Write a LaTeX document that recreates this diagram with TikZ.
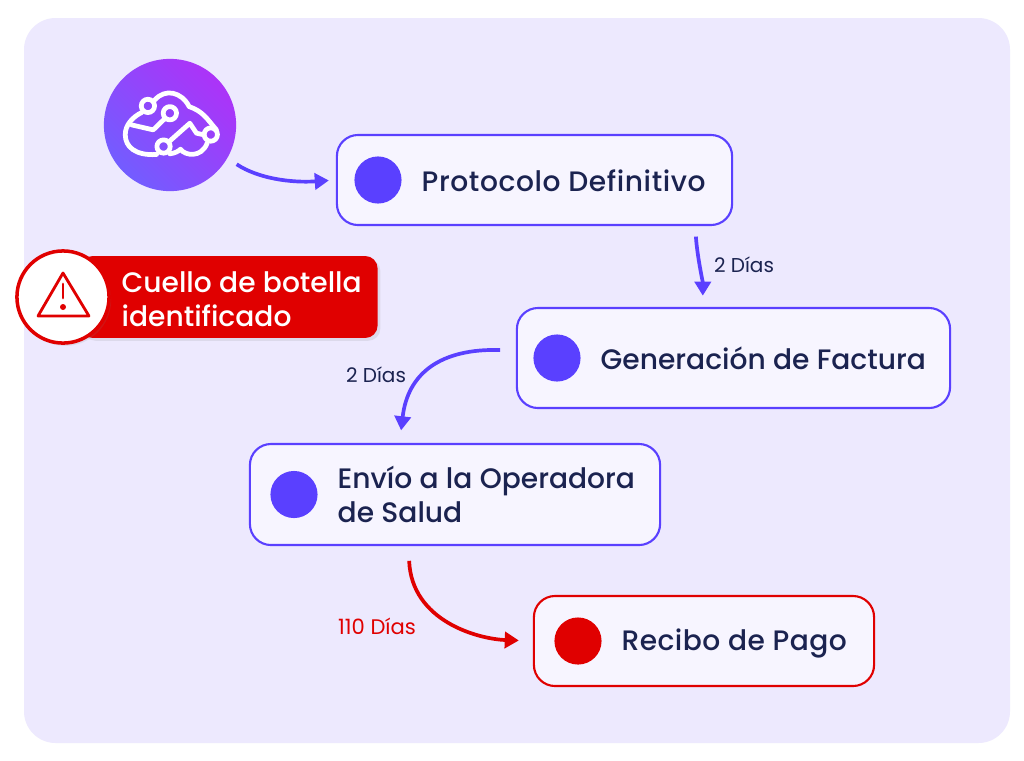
\documentclass[tikz,border=0pt]{standalone}
\usepackage{fontspec}
\setmainfont{Poppins}
\newfontfamily\medfont{Poppins Medium}
\usepackage{tikz}
\usetikzlibrary{calc}
\usetikzlibrary{shadows}
\usetikzlibrary{arrows.meta}
\definecolor{panelbg}{HTML}{EDE9FE}
\definecolor{cardbg}{HTML}{F7F5FF}
\definecolor{flowblue}{HTML}{5A40FF}
\definecolor{logoviolet}{HTML}{AC33F8}
\definecolor{alertred}{HTML}{E00000}
\definecolor{inktext}{HTML}{1B2350}
\tikzset{
  card/.style={shape=rectangle,fill=cardbg,line width=0.6pt,rounded corners=6pt,inner sep=0pt},
  dot/.style={shape=circle,inner sep=0pt,minimum size=13.4pt},
  cardtext/.style={anchor=west,inner sep=0pt,text=inktext,align=left,font=\medfont\fontsize{8}{9.7}\selectfont},
  daytext/.style={inner sep=0pt,font=\fontsize{5.7}{7}\selectfont},
  flow/.style={line width=1.05pt,-{Triangle[length=4pt,width=4.6pt]}},
  iconline/.style={draw=white,line width=1.35pt,line join=round,line cap=round},
}
\newcommand{\cardstrut}{\rule[-1pt]{0pt}{8.4pt}}
\newcommand{\stepcard}[9]{ \node[card,draw=#6,minimum width=#4*0.2845pt,minimum height=#5*0.2845pt] (#1) at ( #2 , #3 ){}; \node[dot,fill=#6] (#1dot) at ( #7 , #3 ){}; \node[cardtext] (#1txt) at ( #8 , #3 ){\cardstrut #9\cardstrut};}
\begin{document}
\begin{tikzpicture}[x=0.01cm,y=-0.01cm]
        \useasboundingbox ( 0 , 0 ) rectangle ( 1024 , 760 );
        \fill[white] ( 0 , 0 ) rectangle ( 1024 , 760 );
        \fill[panelbg,rounded corners=9pt] ( 24 , 18 ) rectangle ( 1010 , 743 );

        % logo
        \node[shape=circle,inner sep=0pt,minimum size=37.6pt,left color=flowblue!85!white,right color=logoviolet,shading angle=135] (logo) at ( 170 , 125 ){};
        \begin{scope}[shift={(90,50)},x=0.00333cm,y=-0.00333cm]
            \draw[iconline] (155,188) .. controls (130,200) and (105,225) .. (106,255) .. controls (106,290) and (135,318) .. (200,314);
            \draw[iconline] (240,312) .. controls (255,310) and (265,305) .. (272,298) .. controls (285,318) and (335,325) .. (352,280);
            \draw[iconline] (195,150) .. controls (225,115) and (275,125) .. (298,170) .. controls (340,185) and (350,205) .. (380,240);
            \draw[iconline] (125,225) -- (190,240) -- (226,205);
            \draw[iconline] (238,275) -- (300,220) -- (320,250) -- (343,255);
            \draw[iconline] (174,168) circle (20);
            \draw[iconline] (240,190) circle (20);
            \draw[iconline] (221,290) circle (20);
            \draw[iconline] (363,254) circle (20);
        \end{scope}

        % cards
        \stepcard{proto}{534.5}{180}{395}{90}{flowblue}{378}{421}{\addfontfeature{LetterSpace=2.1}Protocolo Definitivo}
        \stepcard{factura}{733.5}{358}{433}{100}{flowblue}{557}{600}{Generación de Factura}
        \stepcard{envio}{455}{494.5}{410}{101}{flowblue}{294}{337}{Envío a la Operadora\\de Salud}
        \stepcard{recibo}{704}{641}{340}{90}{alertred}{578}{621}{\addfontfeature{LetterSpace=1.5}Recibo de Pago}

        % arrows
        \draw[flow,flowblue,shorten <=3pt,shorten >=2pt] (logo.-30) .. controls +(30,20) and +(-45,3) .. (proto.west);
        \draw[flow,flowblue,shorten <=3pt,shorten >=3.2pt] (proto.-16) .. controls +(2,30) and +(0,-25) .. (factura.121.4);
        \draw[flow,flowblue,shorten <=4.5pt,shorten >=3.6pt] (factura.178) .. controls +(-75,-2) and +(8,-70) .. (envio.137.5);
        \draw[flow,alertred,shorten <=4.2pt,shorten >=4pt] (envio.-132.3) .. controls +(3,75) and +(-55,-2) .. (recibo.west);

        % days
        \node[daytext,text=inktext] (dias1) at ( 744 , 265 ){2 Días};
        \node[daytext,text=inktext] (dias2) at ( 376 , 375 ){2 Días};
        \node[daytext,text=alertred,font=\fontsize{6}{7}\selectfont] (dias3) at ( 377 , 626 ){110 Días};

        % alert
        \node[shape=rectangle,fill=alertred,rounded corners=3.5pt,minimum width=84.5pt,minimum height=23.3pt,inner sep=0pt,drop shadow={shadow xshift=0.8pt,shadow yshift=-0.8pt,opacity=0.15}] (alert) at ( 229 , 297 ){};
        \node[shape=circle,fill=white,draw=alertred,line width=1pt,minimum size=26.2pt,inner sep=0pt,drop shadow={shadow xshift=0.6pt,shadow yshift=-0.8pt,opacity=0.15}] (warn) at ( 63 , 297 ){};
        \draw[alertred,line width=0.8pt,line join=round] (63,273) -- (89,316) -- (38,316) -- cycle;
        \draw[alertred,line width=0.8pt,line cap=round] (63,284) -- (63,298);
        \fill[alertred] (63,307) circle (3);
        \node[cardtext,text=white] (alerttxt) at ( 121 , 298 ){\cardstrut Cuello de botella\\identificado\cardstrut};
    \end{tikzpicture}
\end{document}
